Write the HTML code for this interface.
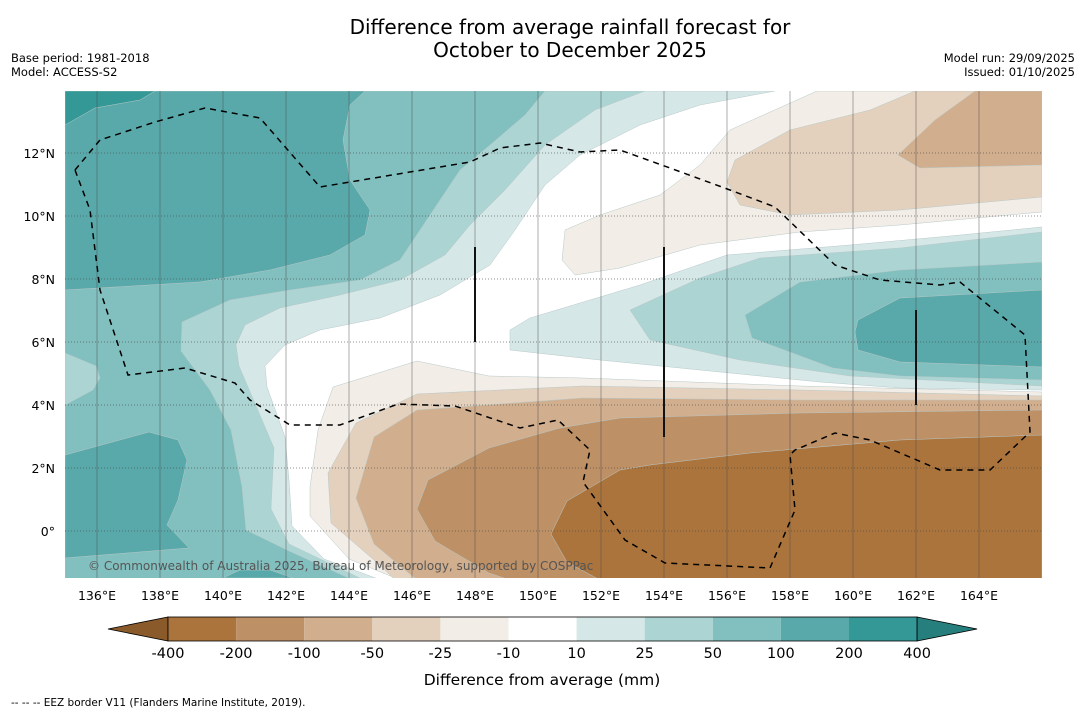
<!DOCTYPE html>
<html><head><meta charset="utf-8"><style>
body{margin:0;background:#fff;font-family:"Liberation Sans","DejaVu Sans",sans-serif;}
svg{display:block}
</style></head><body>
<svg id="chart" width="1085" height="713" viewBox="0 0 1085 713" xmlns="http://www.w3.org/2000/svg">
<text x="570" y="34" font-size="20" text-anchor="middle" font-family="DejaVu Sans, sans-serif">Difference from average rainfall forecast for</text>
<text x="570" y="57" font-size="20" text-anchor="middle" font-family="DejaVu Sans, sans-serif">October to December 2025</text>
<text x="11" y="62" font-size="11.5" font-family="DejaVu Sans, sans-serif">Base period: 1981-2018</text>
<text x="11" y="76" font-size="11.5" font-family="DejaVu Sans, sans-serif">Model: ACCESS-S2</text>
<text x="1075" y="62" font-size="11.5" text-anchor="end" font-family="DejaVu Sans, sans-serif">Model run: 29/09/2025</text>
<text x="1075" y="76" font-size="11.5" text-anchor="end" font-family="DejaVu Sans, sans-serif">Issued: 01/10/2025</text>
<defs><clipPath id="mapclip"><rect x="65" y="91" width="977" height="487"/></clipPath></defs>
<g clip-path="url(#mapclip)">
<rect x="65" y="91" width="977" height="487" fill="#fff"/>
<g stroke="#b8c8c8" stroke-width="0.5">
<polygon fill="#d5e8e7" points="65,91 775,91 700,105 640,125 580,155 545,185 515,230 490,265 440,295 380,318 320,330 285,345 265,366 267,387 285,437 289,480 292,526 324,559 381,580 65,580"/>
<polygon fill="#abd4d3" points="65,91 645,91 595,110 545,145 505,190 470,225 445,255 400,280 340,295 280,308 245,325 236,345 239,366 274,448 271,509 289,544 364,580 65,580"/>
<polygon fill="#82bfbf" points="65,91 545,91 525,115 490,145 460,170 440,200 420,230 400,260 360,280 290,290 230,300 182,322 181,351 210,390 231,430 242,487 246,530 289,551 353,580 65,580"/>
<polygon fill="#abd4d3" points="65,353 96,366 100,378 93,390 65,405"/>
<polygon fill="#5aa9aa" points="65,91 365,91 350,105 343,140 350,180 370,210 365,235 330,255 270,270 200,282 65,290"/>
<polygon fill="#339896" points="65,91 155,91 140,100 95,108 65,125"/>
<polygon fill="#5aa9aa" points="65,455 149,432 178,440 187,460 178,500 167,525 189,548 65,558"/>
<polygon fill="#5aa9aa" points="223,578 240,570 270,570 293,578"/>
<polygon fill="#d5e8e7" points="1042,227 950,236 850,245 727,255 640,285 530,318 510,330 510,350 600,360 720,372 820,382 900,388 1042,390"/>
<polygon fill="#abd4d3" points="1042,232 900,248 760,258 700,278 630,310 650,340 740,360 850,376 1042,386"/>
<polygon fill="#82bfbf" points="1042,262 900,270 800,282 745,315 752,338 833,368 900,376 1042,380"/>
<polygon fill="#5aa9aa" points="1042,290 900,298 858,320 855,332 858,350 900,362 1042,367"/>
<polygon fill="#f2ede7" points="817,91 1042,91 1042,212 900,225 800,232 700,245 620,268 575,275 562,260 565,230 600,215 660,195 700,165 730,130"/>
<polygon fill="#e3d0bd" points="915,91 1042,91 1042,197 900,210 790,215 740,205 727,182 735,160 790,130 870,110"/>
<polygon fill="#d1ae8d" points="975,91 1042,91 1042,165 920,168 898,155 935,120"/>
<polygon fill="#f2ede7" points="333,387 417,361 489,376 583,378 800,386 1042,392 1042,580 400,580 349,559 310,516 310,487 318,430"/>
<polygon fill="#e3d0bd" points="417,394 583,386 800,390 1042,396 1042,580 395,580 381,566 331,523 328,473 356,423"/>
<polygon fill="#d1ae8d" points="417,410 583,398 800,400 1042,400 1042,580 417,580 374,544 356,498 374,437"/>
<polygon fill="#bd9066" points="620,418 800,413 1042,410 1042,580 510,580 489,573 435,541 417,509 428,480 489,448 560,428"/>
<polygon fill="#ab743c" points="620,470 650,465 750,453 900,440 1042,435 1042,580 600,580 567,562 551,534 567,501"/>
</g>
<g id="grid"></g>
<polyline fill="none" stroke="#000" stroke-width="1.5" stroke-dasharray="6,5" points="75,170 100,140 155,122 205,108 260,118 320,187 470,162 500,148 540,143 580,152 620,150 670,168 730,190 775,207 835,265 880,280 940,285 960,282 1025,335 1030,432 990,470 940,470 870,440 835,433 795,450 790,455 795,510 770,568 665,563 625,540 583,482 590,450 558,420 520,428 455,406 398,404 340,425 290,425 250,400 235,383 185,368 128,375 100,290 90,210 75,170"/>
<g stroke="#111" stroke-width="2">
<line x1="475" y1="247" x2="475" y2="342"/>
<line x1="664" y1="247" x2="664" y2="437"/>
<line x1="916" y1="310" x2="916" y2="405"/>
</g>
<text x="88" y="570" font-size="12" fill="#555" font-family="DejaVu Sans, sans-serif">© Commonwealth of Australia 2025, Bureau of Meteorology, supported by COSPPac</text>
</g>
<g id="axes"></g>
<g id="colorbar"></g>
<text x="542" y="685" font-size="15.5" text-anchor="middle" font-family="DejaVu Sans, sans-serif">Difference from average (mm)</text>
<text x="11" y="706" font-size="10.5" font-family="DejaVu Sans, sans-serif">--  --  -- EEZ border V11 (Flanders Marine Institute, 2019).</text>
</svg>
<script>
const lonTicks=[136,138,140,142,144,146,148,150,152,154,156,158,160,162,164];
const latTicks=[0,2,4,6,8,10,12];
const cbLabels=["-400","-200","-100","-50","-25","-10","10","25","50","100","200","400"];
const cbColors=["#ab743c","#bd9066","#d1ae8d","#e3d0bd","#f2ede7","#ffffff","#d5e8e7","#abd4d3","#82bfbf","#5aa9aa","#339896"];
const NS="http://www.w3.org/2000/svg";
const xLon=l=>97+(l-136)*31.5;
const yLat=l=>531-l*31.5;
function mk(t,a,p){const e=document.createElementNS(NS,t);for(const k in a)e.setAttribute(k,a[k]);p.appendChild(e);return e;}
const grid=document.getElementById('grid'),axes=document.getElementById('axes'),cb=document.getElementById('colorbar');
lonTicks.forEach(l=>{
 const ln=mk('line',{x1:xLon(l),x2:xLon(l),y1:91,y2:578,stroke:'rgba(70,70,70,0.45)','stroke-width':1},grid);
 
 
 const t=mk('text',{x:xLon(l),y:600,'font-size':12.5,'text-anchor':'middle','font-family':'DejaVu Sans, sans-serif'},axes);
 t.textContent=l+'°E';
 
 
});
latTicks.forEach(l=>{
 const ln=mk('line',{x1:65,x2:1042,y1:yLat(l),y2:yLat(l),stroke:'rgba(70,70,70,0.6)','stroke-width':1,'stroke-dasharray':'1,2'},grid);
 
 
 const t=mk('text',{x:55,y:yLat(l)+5,'font-size':12.5,'text-anchor':'end','font-family':'DejaVu Sans, sans-serif'},axes);
 t.textContent=l===0?'0°':l+'°N';
 
 
});
const x0=168,w=68.1,y0=617,h=24;
const lt=mk('polygon',{points:`108,${y0+h/2} ${x0},${y0} ${x0},${y0+h}`,fill:'#8a5a2b',stroke:'#000','stroke-width':0.8},cb);


cbColors.forEach((c,i)=>{
 const r=mk('rect',{x:x0+i*w,y:y0,width:w,height:h,fill:c},cb);
 
 
});
const xe=x0+cbColors.length*w;
const rt=mk('polygon',{points:`${xe},${y0} ${xe+60},${y0+h/2} ${xe},${y0+h}`,fill:'#267f7d',stroke:'#000','stroke-width':0.8},cb);


const bd=mk('rect',{x:x0,y:y0,width:xe-x0,height:h,fill:'none',stroke:'#000','stroke-width':0.8},cb);


cbLabels.forEach((s,i)=>{
 const t=mk('text',{x:x0+i*w,y:658,'font-size':14.5,'text-anchor':'middle','font-family':'DejaVu Sans, sans-serif'},cb);
 t.textContent=s;
 
 
});
</script>
</body></html>
